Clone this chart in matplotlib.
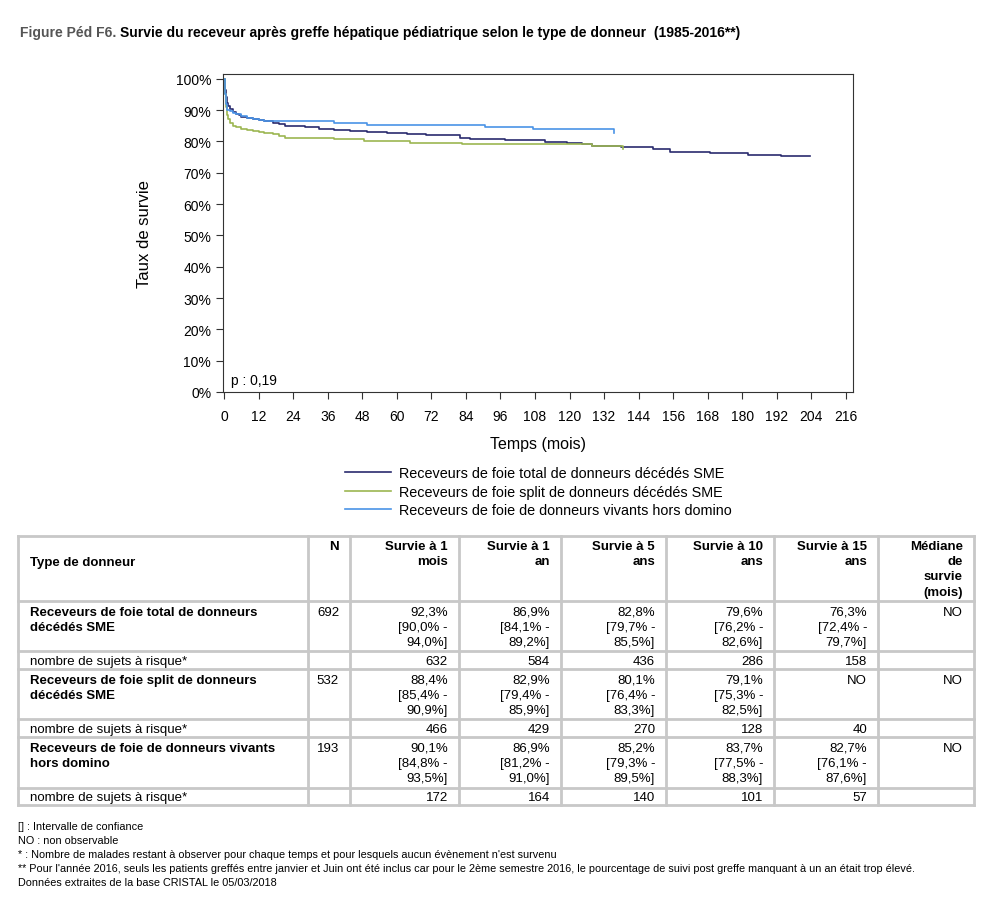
import matplotlib
matplotlib.use("Agg")
import matplotlib.pyplot as plt
import matplotlib.transforms as mtrans
import numpy as np

plt.rcParams['font.family'] = ['Liberation Sans', 'DejaVu Sans']

# Kaplan-Meier curves (months, survival %)
t_total = [0, 0.3, 0.6, 1, 1.5, 2, 3, 4, 5, 6, 8, 10, 12, 14, 17, 19, 21, 28, 33, 38,
           43.7, 49.6, 56.5, 63.4, 70, 82, 85.4, 97.6, 111.5, 119, 124.2, 127.7, 138,
           149, 155, 168.8, 182, 193.6, 203.5]
s_total = [100, 96.5, 94, 92.3, 91.2, 90.3, 89.4, 88.8, 88.3, 87.9, 87.5, 87.1, 86.9,
           86.5, 86.0, 85.5, 85.0, 84.6, 83.8, 83.6, 83.3, 82.9, 82.6, 82.3, 82.0, 81.2,
           80.9, 80.4, 79.9, 79.4, 79.0, 78.6, 78.2, 77.5, 76.7, 76.2, 75.7, 75.3, 75.3]

t_split = [0, 0.3, 0.6, 1, 1.5, 2, 3, 4, 6, 8, 10, 12, 14, 17, 19, 21, 38, 48.6, 64.6,
           82.5, 127.7, 137.6, 138.5]
s_split = [100, 95, 91, 88.4, 87, 86, 85, 84.6, 84.1, 83.6, 83.2, 82.9, 82.7, 82.3, 81.8,
           81.1, 80.8, 80.2, 79.5, 79.1, 78.5, 78.5, 77.7]

t_vivant = [0, 0.3, 0.6, 1, 2, 3, 4, 6, 8, 10, 12, 14, 38, 49.6, 90.6, 107.4, 135.2, 135.6]
s_vivant = [100, 95, 92, 90.1, 89.7, 89.2, 88.6, 88, 87.5, 87.1, 86.9, 86.5, 85.8, 85.3,
            84.5, 83.9, 83.9, 82.8]

legend_labels = ["Receveurs de foie total de donneurs décédés SME",
                 "Receveurs de foie split de donneurs décédés SME",
                 "Receveurs de foie de donneurs vivants hors domino"]
colors = ["#2a2b6e", "#9cb652", "#4a93e6"]

# table
col_headers = ["Type de donneur", "N", "Survie à 1\nmois", "Survie à 1\nan", "Survie à 5\nans",
               "Survie à 10\nans", "Survie à 15\nans", "Médiane\nde\nsurvie\n(mois)"]
groups = ["Receveurs de foie total de donneurs\ndécédés SME",
          "Receveurs de foie split de donneurs\ndécédés SME",
          "Receveurs de foie de donneurs vivants\nhors domino"]
n_values = ["692", "532", "193"]
survival_cells = [
    ["92,3%\n[90,0% -\n94,0%]", "86,9%\n[84,1% -\n89,2%]", "82,8%\n[79,7% -\n85,5%]",
     "79,6%\n[76,2% -\n82,6%]", "76,3%\n[72,4% -\n79,7%]"],
    ["88,4%\n[85,4% -\n90,9%]", "82,9%\n[79,4% -\n85,9%]", "80,1%\n[76,4% -\n83,3%]",
     "79,1%\n[75,3% -\n82,5%]", "NO"],
    ["90,1%\n[84,8% -\n93,5%]", "86,9%\n[81,2% -\n91,0%]", "85,2%\n[79,3% -\n89,5%]",
     "83,7%\n[77,5% -\n88,3%]", "82,7%\n[76,1% -\n87,6%]"],
]
medians = ["NO", "NO", "NO"]
at_risk = [["632", "584", "436", "286", "158"],
           ["466", "429", "270", "128", "40"],
           ["172", "164", "140", "101", "57"]]
risk_label = "nombre de sujets à risque*"

footnotes = ["[] : Intervalle de confiance",
             "NO : non observable",
             "* : Nombre de malades restant à observer pour chaque temps et pour lesquels aucun évènement n'est survenu",
             "** Pour l'année 2016, seuls les patients greffés entre janvier et Juin ont été inclus car pour le 2ème semestre 2016, le pourcentage de suivi post greffe manquant à un an était trop élevé.",
             "Données extraites de la base CRISTAL le 05/03/2018"]

W, H = 992, 912
fig = plt.figure(figsize=(W / 100, H / 100), dpi=100)

# pixel canvas for the text and table
canvas = fig.add_axes([0, 0, 1, 1])
canvas.set_xlim(0, W)
canvas.set_ylim(H, 0)
canvas.axis('off')

# title
t1 = canvas.text(20, 33, "Figure Péd F6.", color="#555555", fontsize=10, fontweight='bold',
                 va='center', ha='left')
fig.canvas.draw()
bb = t1.get_window_extent()
canvas.text(bb.x1 + 4, 33, "Survie du receveur après greffe hépatique pédiatrique selon le type de donneur  (1985-2016**)",
            fontsize=10, fontweight='bold', va='center', ha='left',
            transform=mtrans.blended_transform_factory(mtrans.IdentityTransform(), canvas.transData))

# survival plot
ax = fig.add_axes([223 / W, 1 - 393 / H, 630 / W, 318 / H])
ax.step(t_total, s_total, where='post', color=colors[0], lw=1.2, label=legend_labels[0])
ax.step(t_split, s_split, where='post', color=colors[1], lw=1.2, label=legend_labels[1])
ax.step(t_vivant, s_vivant, where='post', color=colors[2], lw=1.2, label=legend_labels[2])
ax.set_xlim(-0.4, 218.5)
ax.set_ylim(0, 101.5)
ax.set_xticks(np.arange(0, 217, 12))
ax.set_yticks(np.arange(0, 101, 10))
ax.set_yticklabels([f"{v}%" for v in range(0, 101, 10)])
ax.tick_params(direction='out', length=5, labelsize=10, color="#333333")
ax.tick_params(axis='x', pad=7)
for sp in ax.spines.values():
    sp.set_color("#333333")
ax.set_xlabel("Temps (mois)", fontsize=11.5)
ax.set_ylabel("Taux de survie", fontsize=12)
ax.xaxis.set_label_coords(0.5, -0.138)
ax.yaxis.set_label_coords(-0.112, 0.5)
ax.text(8 / 630, 12 / 318, "p : 0,19", transform=ax.transAxes, fontsize=10, va='center')

fig.legend(loc='upper left', bbox_to_anchor=(338 / W, 1 - 460 / H), frameon=False,
           fontsize=10.4, handlelength=3.2, labelspacing=0.32, handletextpad=0.5,
           borderpad=0)

# table grid
xs = [18, 308, 350, 459, 561, 666, 774, 878, 974]
ys = [537, 602, 652, 670, 720, 738, 789, 806]
grid = "#c8c8c8"
for x in xs:
    canvas.plot([x, x], [ys[0], ys[-1]], color=grid, lw=2, solid_capstyle='projecting')
for y in ys:
    canvas.plot([xs[0], xs[-1]], [y, y], color=grid, lw=2, solid_capstyle='projecting')

fs = 9.5
ls = 1.36
pad = 11
canvas.text(30, 563, col_headers[0], fontsize=fs, fontweight='bold', va='center', ha='left')
for j, h in enumerate(col_headers[1:]):
    canvas.text(xs[j + 2] - pad, 541, h, fontsize=fs, fontweight='bold', va='top', ha='right',
                linespacing=ls)

for i in range(3):
    top = ys[1 + 2 * i]
    mid_risk = (ys[2 + 2 * i] + ys[3 + 2 * i]) / 2
    canvas.text(30, top + 5, groups[i], fontsize=fs, fontweight='bold', va='top', ha='left',
                linespacing=ls)
    canvas.text(xs[2] - pad, top + 5, n_values[i], fontsize=fs, va='top', ha='right')
    for j in range(5):
        canvas.text(xs[j + 3] - pad, top + 5, survival_cells[i][j], fontsize=fs, va='top',
                    ha='right', linespacing=ls)
    canvas.text(xs[8] - pad, top + 5, medians[i], fontsize=fs, va='top', ha='right')
    canvas.text(30, mid_risk + 1, risk_label, fontsize=fs, va='center', ha='left')
    for j in range(5):
        canvas.text(xs[j + 3] - pad, mid_risk + 1, at_risk[i][j], fontsize=fs, va='center',
                    ha='right')

for k, line in enumerate(footnotes):
    canvas.text(18, 827 + 14 * k, line, fontsize=7.8, va='center', ha='left')

fig.savefig("out.png", dpi=100)
